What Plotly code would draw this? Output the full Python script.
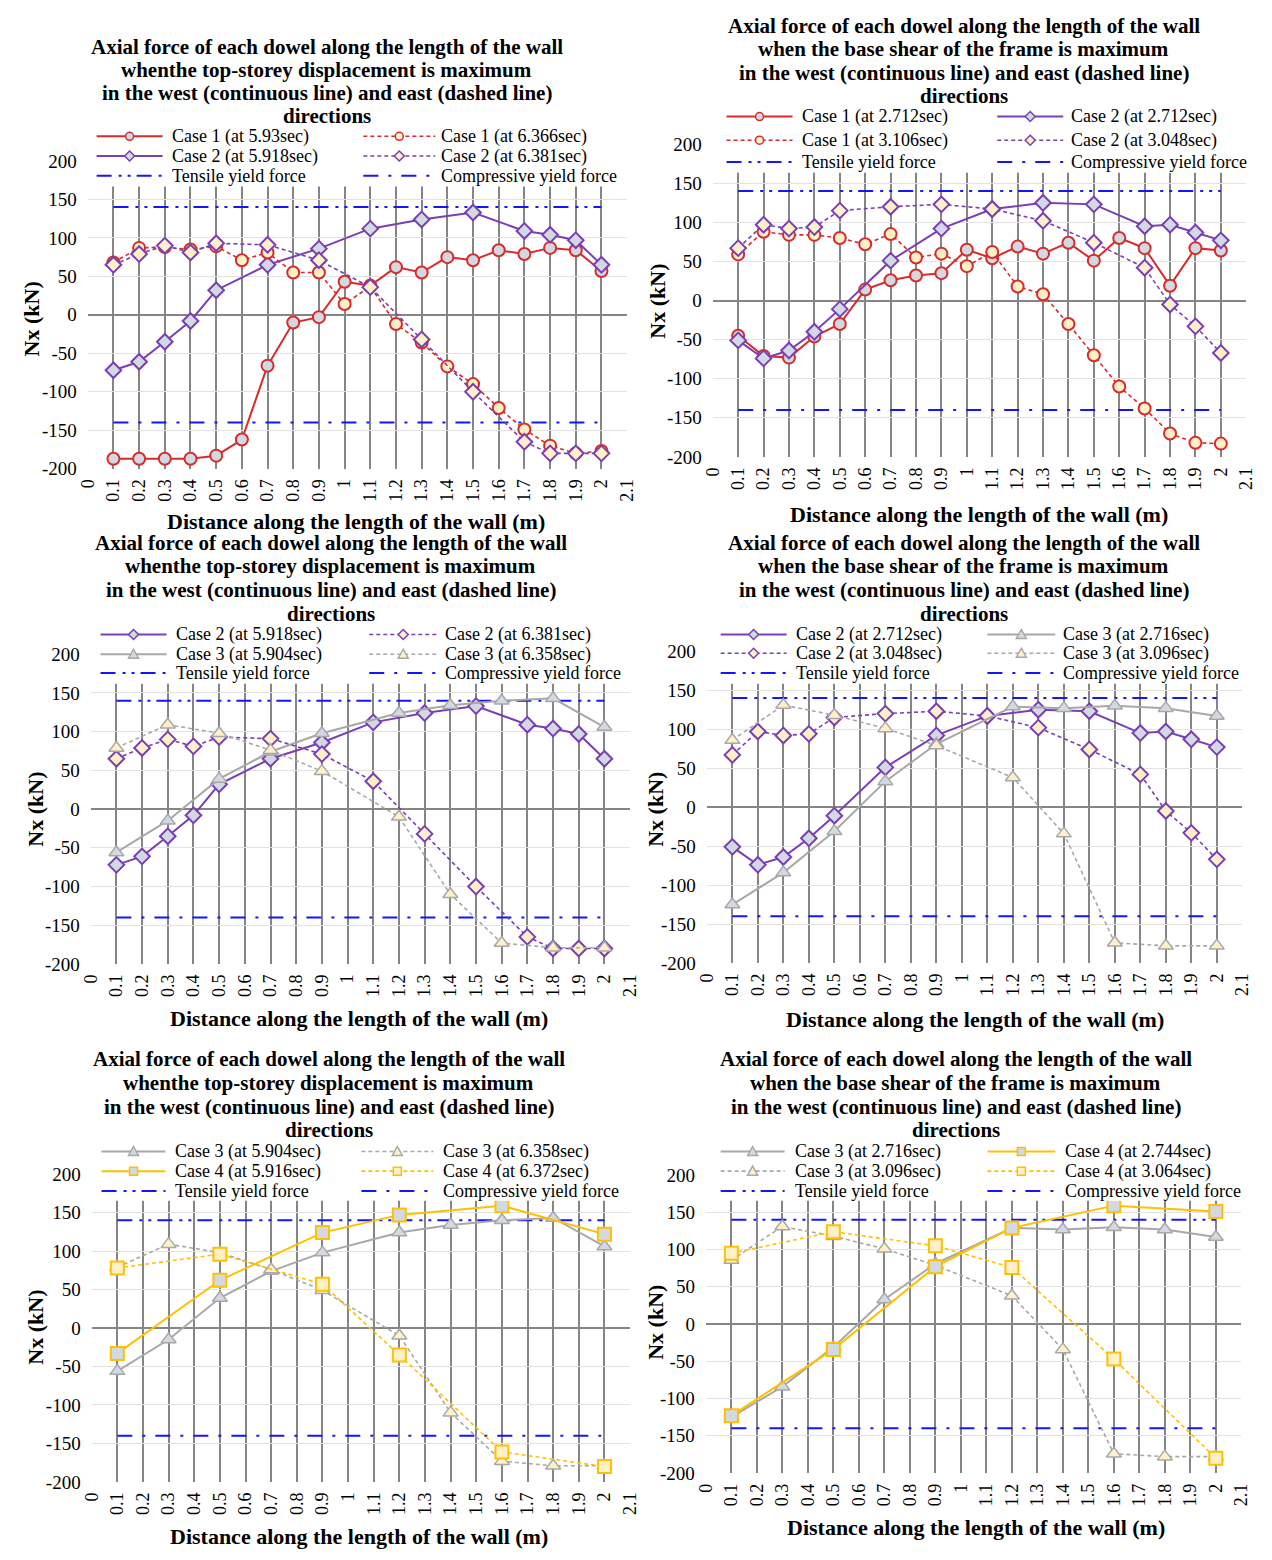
import plotly.graph_objects as go

FIG_W, FIG_H = 1272, 1560
FONT = "Liberation Serif, Times New Roman, serif"

# ---------------------------------------------------------------- data
# dowel positions along the wall (m) for each case
X_CASE1 = [0.1, 0.2, 0.3, 0.4, 0.5, 0.6, 0.7, 0.8, 0.9, 1.0,
           1.1, 1.2, 1.3, 1.4, 1.5, 1.6, 1.7, 1.8, 1.9, 2.0]
X_CASE2 = [0.1, 0.2, 0.3, 0.4, 0.5, 0.7, 0.9, 1.1, 1.3, 1.5, 1.7, 1.8, 1.9, 2.0]
X_CASE3 = [0.1, 0.3, 0.5, 0.7, 0.9, 1.2, 1.4, 1.6, 1.8, 2.0]
X_CASE4 = [0.1, 0.5, 0.9, 1.2, 1.6, 2.0]

X_TICKS = [0, 0.1, 0.2, 0.3, 0.4, 0.5, 0.6, 0.7, 0.8, 0.9, 1, 1.1,
           1.2, 1.3, 1.4, 1.5, 1.6, 1.7, 1.8, 1.9, 2, 2.1]
Y_TICKS = [-200, -150, -100, -50, 0, 50, 100, 150, 200]

# yield forces of a dowel (kN)
TENSILE_YIELD = 140
COMPRESSIVE_YIELD = -140

# axial force Nx (kN) - instant of maximum top-storey displacement
C1_WEST_DISP = [-187, -187, -187, -187, -183, -162, -66, -10, -3, 43,
                38, 62, 55, 75, 71, 84, 79, 87, 84, 57]
C1_EAST_DISP = [68, 87, 88, 85, 89, 71, 81, 55, 55, 14,
                37, -12, -36, -67, -90, -121, -149, -170, -180, -177]
C2_WEST_DISP = [-72, -61, -35, -8, 32, 65, 86, 112, 124, 133, 109, 104, 97, 65]
C2_EAST_DISP = [65, 79, 90, 81, 93, 91, 71, 36, -32, -100, -165, -180, -180, -180]
C3_WEST_DISP = [-56, -15, 39, 74, 98, 124, 134, 140, 143, 106]
C3_EAST_DISP = [79, 109, 98, 76, 49, -10, -110, -173, -179, -179]
C4_WEST_DISP = [-33, 62, 124, 147, 159, 122]
C4_EAST_DISP = [78, 96, 57, -35, -161, -180]

# axial force Nx (kN) - instant of maximum base shear of the frame
C1_WEST_SHEAR = [-45, -71, -73, -46, -30, 14, 26, 32, 35, 65,
                 54, 69, 60, 74, 51, 80, 67, 19, 67, 64]
C1_EAST_SHEAR = [59, 88, 84, 84, 80, 72, 85, 55, 60, 44,
                 62, 18, 8, -30, -70, -110, -138, -170, -182, -183]
C2_WEST_SHEAR = [-51, -74, -64, -40, -11, 51, 92, 117, 125, 123, 95, 97, 87, 77]
C2_EAST_SHEAR = [67, 97, 92, 94, 115, 120, 123, 117, 102, 74, 42, -5, -33, -67]
C3_WEST_SHEAR = [-125, -84, -31, 33, 81, 129, 127, 130, 127, 117]
C3_EAST_SHEAR = [86, 131, 118, 101, 79, 38, -34, -174, -178, -178]
C4_WEST_SHEAR = [-123, -34, 77, 129, 159, 151]
C4_EAST_SHEAR = [95, 124, 105, 76, -47, -180]

TITLE_DISP = ["Axial force of each dowel along the length of the wall",
              "whenthe top-storey displacement is maximum",
              "in the west (continuous line) and east (dashed line)",
              "directions"]
TITLE_SHEAR = ["Axial force of each dowel along the length of the wall",
               "when the base shear of the frame is maximum",
               "in the west (continuous line) and east (dashed line)",
               "directions"]
X_TITLE = "Distance along the length of the wall (m)"
Y_TITLE = "Nx (kN)"

# ---------------------------------------------------------------- styles
CASE_STYLE = {
    1: dict(color="#D92B2B", symbol="circle", size=12, mwidth=2),
    2: dict(color="#7A3EB5", symbol="diamond", size=12, mwidth=2),
    3: dict(color="#A8A8A8", symbol="triangle-up", size=13, mwidth=1.5),
    4: dict(color="#FFC000", symbol="square", size=13, mwidth=2),
}
WEST_FILL = "#D3D9E2"
EAST_FILL = "#FFF0C8"
YIELD_BLUE = "#1414FF"
TENSILE_DASH = "15px,7px,3px,6px,3px,6px"
COMPRESSIVE_DASH = "15px,10px,3px,10px"
SERIES_DASH = "4px,3px"


def series(name, x, y, case, side):
    return dict(kind="case", name=name, x=x, y=y, case=case, side=side)


TENSILE = dict(kind="yield", name="Tensile yield force", value=TENSILE_YIELD, dash=TENSILE_DASH)
COMPRESSIVE = dict(kind="yield", name="Compressive yield force", value=COMPRESSIVE_YIELD,
                   dash=COMPRESSIVE_DASH)

s = dict(
    c1w_d=series("Case 1 (at 5.93sec)", X_CASE1, C1_WEST_DISP, 1, "W"),
    c1e_d=series("Case 1 (at 6.366sec)", X_CASE1, C1_EAST_DISP, 1, "E"),
    c2w_d=series("Case 2 (at 5.918sec)", X_CASE2, C2_WEST_DISP, 2, "W"),
    c2e_d=series("Case 2 (at 6.381sec)", X_CASE2, C2_EAST_DISP, 2, "E"),
    c3w_d=series("Case 3 (at 5.904sec)", X_CASE3, C3_WEST_DISP, 3, "W"),
    c3e_d=series("Case 3 (at 6.358sec)", X_CASE3, C3_EAST_DISP, 3, "E"),
    c4w_d=series("Case 4 (at 5.916sec)", X_CASE4, C4_WEST_DISP, 4, "W"),
    c4e_d=series("Case 4 (at 6.372sec)", X_CASE4, C4_EAST_DISP, 4, "E"),
    c1w_s=series("Case 1 (at 2.712sec)", X_CASE1, C1_WEST_SHEAR, 1, "W"),
    c1e_s=series("Case 1 (at 3.106sec)", X_CASE1, C1_EAST_SHEAR, 1, "E"),
    c2w_s=series("Case 2 (at 2.712sec)", X_CASE2, C2_WEST_SHEAR, 2, "W"),
    c2e_s=series("Case 2 (at 3.048sec)", X_CASE2, C2_EAST_SHEAR, 2, "E"),
    c3w_s=series("Case 3 (at 2.716sec)", X_CASE3, C3_WEST_SHEAR, 3, "W"),
    c3e_s=series("Case 3 (at 3.096sec)", X_CASE3, C3_EAST_SHEAR, 3, "E"),
    c4w_s=series("Case 4 (at 2.744sec)", X_CASE4, C4_WEST_SHEAR, 4, "W"),
    c4e_s=series("Case 4 (at 3.064sec)", X_CASE4, C4_EAST_SHEAR, 4, "E"),
)

# ---------------------------------------------------------------- panel layout (pixels)
PANELS = [
    dict(box=(79, 627, 153, 465), title=TITLE_DISP, title_cx=322, title_y=[37, 61, 84, 107],
         leg_rows=[128, 148, 168], leg_box=(118, 179),
         leg_cols=[(88, 155, 163), (359, 432, 436)],
         legend=[[s["c1w_d"], s["c2w_d"], TENSILE], [s["c1e_d"], s["c2e_d"], COMPRESSIVE]],
         xtitle=(352, 518), ytitle=(22, 313)),
    dict(box=(714, 1256, 136, 453), title=TITLE_SHEAR, title_cx=969, title_y=[16, 40, 64, 87],
         leg_rows=[108, 132, 154], leg_box=(97, 165),
         leg_cols=[(728, 795, 803), (1003, 1070, 1076)],
         legend=[[s["c1w_s"], s["c1e_s"], TENSILE], [s["c2w_s"], s["c2e_s"], COMPRESSIVE]],
         xtitle=(984, 511), ytitle=(657, 295)),
    dict(box=(82, 630, 653, 967), title=TITLE_DISP, title_cx=326, title_y=[540, 564, 588, 612],
         leg_rows=[633, 653, 672], leg_box=(623, 683),
         leg_cols=[(92, 159, 167), (365, 434, 440)],
         legend=[[s["c2w_d"], s["c3w_d"], TENSILE], [s["c2e_d"], s["c3e_d"], COMPRESSIVE]],
         xtitle=(355, 1022), ytitle=(25, 810)),
    dict(box=(708, 1252, 650, 966), title=TITLE_SHEAR, title_cx=969, title_y=[540, 564, 588, 612],
         leg_rows=[633, 652, 672], leg_box=(623, 683),
         leg_cols=[(722, 789, 797), (993, 1062, 1068)],
         legend=[[s["c2w_s"], s["c2e_s"], TENSILE], [s["c3w_s"], s["c3e_s"], COMPRESSIVE]],
         xtitle=(980, 1023), ytitle=(655, 810)),
    dict(box=(83, 630, 1180, 1492), title=TITLE_DISP, title_cx=324, title_y=[1063, 1088, 1112, 1135],
         leg_rows=[1157, 1177, 1197], leg_box=(1147, 1207),
         leg_cols=[(93, 158, 166), (357, 430, 438)],
         legend=[[s["c3w_d"], s["c4w_d"], TENSILE], [s["c3e_d"], s["c4e_d"], COMPRESSIVE]],
         xtitle=(355, 1547), ytitle=(25, 1335)),
    dict(box=(707, 1251, 1181, 1483), title=TITLE_SHEAR, title_cx=961, title_y=[1063, 1088, 1112, 1135],
         leg_rows=[1157, 1177, 1197], leg_box=(1147, 1207),
         leg_cols=[(722, 787, 795), (993, 1062, 1070)],
         legend=[[s["c3w_s"], s["c3e_s"], TENSILE], [s["c4w_s"], s["c4e_s"], COMPRESSIVE]],
         xtitle=(981, 1538), ytitle=(655, 1330)),
]


def px(x):
    return x / FIG_W


def py(y):
    return 1 - y / FIG_H


LEGEND_GLYPH = {
    "diamond": "M 0 5 L 5 0 L 0 -5 L -5 0 Z",
    "triangle-up": "M -5 -4 L 5 -4 L 0 5 Z",
    "square": "M -4 -4 L 4 -4 L 4 4 L -4 4 Z",
}

fig = go.Figure()
shapes = []
annotations = []
layout_axes = {}

for i, p in enumerate(PANELS):
    n = "" if i == 0 else str(i + 1)
    xref, yref = "x" + n, "y" + n
    x0, x1, y0, y1 = p["box"]

    # traces: yield limits first, then the dowel force series
    all_items = p["legend"][0] + p["legend"][1]
    for item in all_items:
        if item["kind"] != "yield":
            continue
        fig.add_trace(go.Scatter(
            x=X_CASE1, y=[item["value"]] * len(X_CASE1), mode="lines",
            name=item["name"], showlegend=False, hoverinfo="skip",
            line=dict(color=YIELD_BLUE, width=2, dash=item["dash"]),
            xaxis=xref, yaxis=yref))
    for item in all_items:
        if item["kind"] != "case":
            continue
        st = CASE_STYLE[item["case"]]
        west = item["side"] == "W"
        fig.add_trace(go.Scatter(
            x=item["x"], y=item["y"], mode="lines+markers", name=item["name"],
            showlegend=False,
            line=dict(color=st["color"], width=2 if west else 1.6,
                      dash="solid" if west else SERIES_DASH),
            marker=dict(symbol=st["symbol"], size=st["size"],
                        color=WEST_FILL if west else EAST_FILL,
                        line=dict(color=st["color"], width=st["mwidth"])),
            xaxis=xref, yaxis=yref))

    # axes
    layout_axes["xaxis" + n] = dict(
        domain=[px(x0), px(x1)], range=[0, 2.1], anchor=yref,
        tickmode="array", tickvals=X_TICKS, ticktext=[f"{v:g}" for v in X_TICKS],
        tickangle=-90, tickfont=dict(family=FONT, size=18, color="#000000"),
        ticklabelstandoff=6, showgrid=True, gridcolor="#858585", gridwidth=1.8,
        zeroline=False, showline=False, ticks="")
    layout_axes["yaxis" + n] = dict(
        domain=[py(y1), py(y0)], range=[-200, 200], anchor=xref,
        tickmode="array", tickvals=Y_TICKS, ticktext=[str(v) for v in Y_TICKS],
        tickfont=dict(family=FONT, size=19, color="#000000"),
        ticklabelstandoff=10, showgrid=True, gridcolor="#E3E3E3", gridwidth=1,
        zeroline=True, zerolinecolor="#858585", zerolinewidth=1.8,
        showline=False, ticks="")

    # title lines
    for line, ty in zip(p["title"], p["title_y"]):
        annotations.append(dict(
            text=line, x=px(p["title_cx"]), y=py(ty), xref="paper", yref="paper",
            xanchor="center", yanchor="middle", showarrow=False,
            font=dict(family=FONT, size=21, color="#000000", weight="bold")))

    # axis titles
    annotations.append(dict(
        text=X_TITLE, x=px(p["xtitle"][0]), y=py(p["xtitle"][1]), xref="paper", yref="paper",
        xanchor="center", yanchor="middle", showarrow=False,
        font=dict(family=FONT, size=22, color="#000000", weight="bold")))
    annotations.append(dict(
        text=Y_TITLE, x=px(p["ytitle"][0]), y=py(p["ytitle"][1]), xref="paper", yref="paper",
        xanchor="center", yanchor="middle", showarrow=False, textangle=-90,
        font=dict(family=FONT, size=22, color="#000000", weight="bold")))

    # legend: white box over the top of the plot area, two columns of entries
    lb_top, lb_bot = p["leg_box"]
    shapes.append(dict(type="rect", xref="paper", yref="paper",
                       x0=px(x0 - 1), x1=px(x1 - 3), y0=py(lb_bot), y1=py(lb_top),
                       fillcolor="#FFFFFF", line=dict(width=0), layer="above"))
    for col, (l0, l1, tx) in zip(p["legend"], p["leg_cols"]):
        for item, ry in zip(col, p["leg_rows"]):
            if item["kind"] == "yield":
                shapes.append(dict(type="line", xref="paper", yref="paper",
                                   x0=px(l0), x1=px(l1), y0=py(ry), y1=py(ry),
                                   line=dict(color=YIELD_BLUE, width=2, dash=item["dash"]),
                                   layer="above"))
            else:
                st = CASE_STYLE[item["case"]]
                west = item["side"] == "W"
                shapes.append(dict(type="line", xref="paper", yref="paper",
                                   x0=px(l0), x1=px(l1), y0=py(ry), y1=py(ry),
                                   line=dict(color=st["color"], width=2 if west else 1.6,
                                             dash="solid" if west else SERIES_DASH),
                                   layer="above"))
                cx = (l0 + l1) / 2
                glyph = dict(xref="paper", yref="paper", xsizemode="pixel", ysizemode="pixel",
                             xanchor=px(cx), yanchor=py(ry), layer="above",
                             fillcolor=WEST_FILL if west else EAST_FILL,
                             line=dict(color=st["color"], width=1.5))
                if st["symbol"] == "circle":
                    glyph.update(type="circle", x0=-4, x1=4, y0=-4, y1=4)
                else:
                    glyph.update(type="path", path=LEGEND_GLYPH[st["symbol"]])
                shapes.append(glyph)
            annotations.append(dict(
                text=item["name"], x=px(tx), y=py(ry), xref="paper", yref="paper",
                xanchor="left", yanchor="middle", showarrow=False,
                font=dict(family=FONT, size=18, color="#000000")))

fig.update_layout(
    width=FIG_W, height=FIG_H, margin=dict(l=0, r=0, t=0, b=0),
    paper_bgcolor="#FFFFFF", plot_bgcolor="#FFFFFF",
    showlegend=False, shapes=shapes, annotations=annotations,
    font=dict(family=FONT, color="#000000"),
    **layout_axes)

fig.write_html("out.html")
